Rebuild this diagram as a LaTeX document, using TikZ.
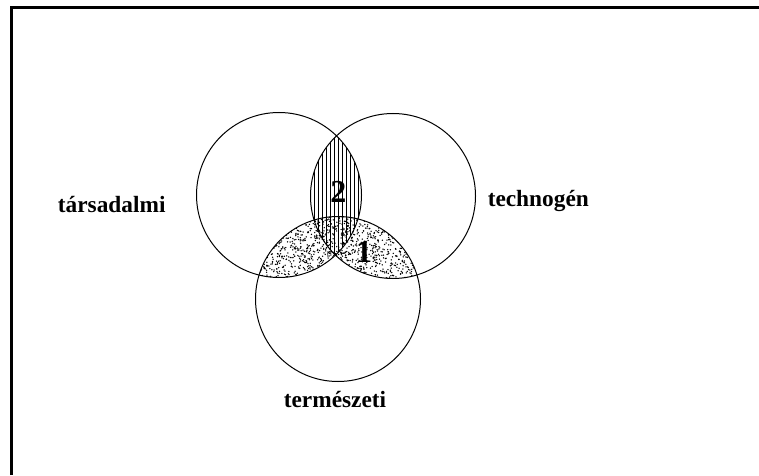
\documentclass[tikz,border=0pt]{standalone}
\usepackage{fontspec}
\setmainfont{Liberation Serif}
\usetikzlibrary{positioning}

\begin{document}
\begin{tikzpicture}[
    x=0.75pt, y=0.75pt,
    ring/.style={draw, line width=0.75pt},
    frameline/.style={draw, line width=2pt},
    hatch/.style={draw, line width=0.5pt},
    setlabel/.style={font=\fontsize{17.5}{20}\selectfont\bfseries, anchor=base, inner sep=0pt},
    num/.style={font=\fontsize{24}{26}\selectfont\bfseries, inner sep=0pt}
]
    \useasboundingbox (0,0) rectangle (759,475);

    % set centres
    \coordinate (ctars) at (279,280);
    \coordinate (ctech) at (393,279);
    \coordinate (cterm) at (338,176);
    \def\rad{82.5}

    % region 1: stippled
    \begin{scope}
        \clip (cterm) circle (\rad);
        \clip (ctars) circle (\rad) (ctech) circle (\rad);
        \pgfmathsetseed{7}
        \foreach \i in {1,...,1500} {
            \pgfmathsetmacro\px{254+168*rnd}
            \pgfmathsetmacro\py{192+68*rnd}
            \fill (\px,\py) circle (0.75);
        }
    \end{scope}

    % region 2: vertical hatching
    \begin{scope}
        \clip (ctars) circle (\rad);
        \clip (ctech) circle (\rad);
        \foreach \x in {310,314,...,366} {
            \draw[hatch] (\x,180) -- (\x,340);
        }
    \end{scope}

    \draw[ring] (ctars) circle (\rad);
    \draw[ring] (ctech) circle (\rad);
    \draw[ring] (cterm) circle (\rad);

    \node[setlabel] (tars) at (111.7,262) {társadalmi};
    \node[setlabel] (tech) at (538.3,268.5) {technogén};
    \node[setlabel] (term) at (335,67.7) {természeti};

    \node[num] (two) at (338.3,282.7) {2};
    \node[num] (one) at (364,222.7) {1};

    % frame
    \coordinate (fbl) at (11.2,0);
    \coordinate (ftl) at (11.2,467.2);
    \coordinate (ftr) at (759,467.2);
    \draw[frameline] (fbl) -- (ftl) -- (ftr);
\end{tikzpicture}
\end{document}
